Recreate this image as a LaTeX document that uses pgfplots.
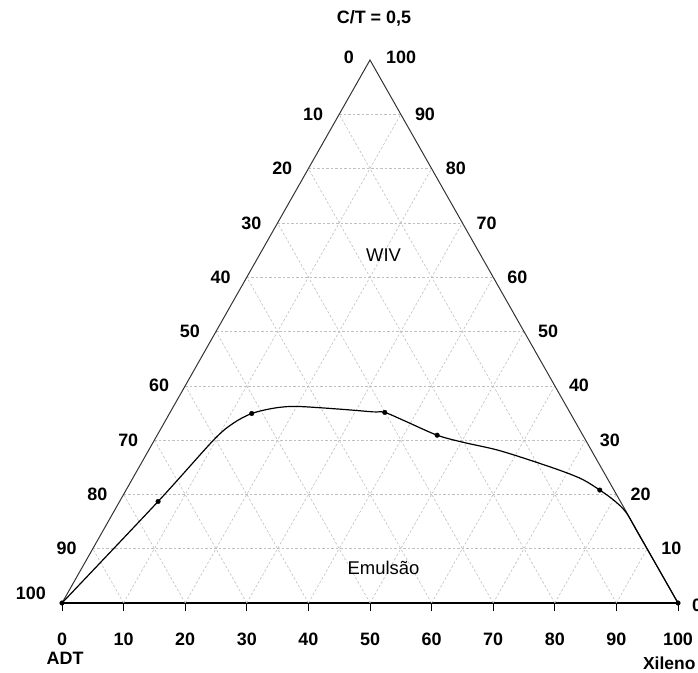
\documentclass[border=0pt]{standalone}
\usepackage{pgfplots}
\pgfplotsset{compat=1.18}
\usepackage{fontspec}
\setmainfont{Liberation Sans}
\newcommand\lab{\bfseries\fontsize{18}{20}\selectfont}
\newcommand\txt{\fontsize{18.5}{20}\selectfont}

% curve (x = bottom scale, y = height in % of triangle)
\pgfplotstableread{
x y
0 0
15.6 18.7
24.6 30.0
27.8 33.1
30.8 34.9
34.5 35.9
38.1 36.2
45.1 35.7
50.5 35.2
52.4 35.1
55.9 33.4
60.9 30.9
65.1 29.6
70.6 28.2
76.0 26.3
81.4 24.2
84.6 22.7
87.3 20.8
89.5 19.0
91.5 16.8
93.5 12.9
100 0
}\curve

\pgfplotstableread{
x y
0 0
15.6 18.7
30.8 34.9
52.4 35.1
60.9 30.9
87.3 20.8
100 0
}\pontos

\begin{document}
\begin{tikzpicture}
\begin{axis}[
  scale only axis, width=616bp, height=543bp,
  xmin=0, xmax=100, ymin=0, ymax=100,
  axis x line=bottom, axis y line=none,
  axis line style={-, black, line width=1.1pt},
  xtick={0,10,...,100},
  xticklabels={0,10,20,30,40,50,60,70,80,90,100},
  tick align=outside, major tick length=8bp,
  tick style={black, line width=0.8pt},
  xticklabel style={font=\lab, yshift=-18bp},
  clip=false,
  unbounded coords=jump,
  grade/.style={black!25, line width=0.6pt, dash pattern=on 2.5bp off 2bp},
]
% grid
\addplot[grade] coordinates {(5,10)(95,10)(nan,nan)(10,20)(90,20)(nan,nan)(15,30)(85,30)(nan,nan)(20,40)(80,40)(nan,nan)(25,50)(75,50)(nan,nan)(30,60)(70,60)(nan,nan)(35,70)(65,70)(nan,nan)(40,80)(60,80)(nan,nan)(45,90)(55,90)};
\addplot[grade] coordinates {(10,0)(55,90)(nan,nan)(20,0)(60,80)(nan,nan)(30,0)(65,70)(nan,nan)(40,0)(70,60)(nan,nan)(50,0)(75,50)(nan,nan)(60,0)(80,40)(nan,nan)(70,0)(85,30)(nan,nan)(80,0)(90,20)(nan,nan)(90,0)(95,10)};
\addplot[grade] coordinates {(10,0)(5,10)(nan,nan)(20,0)(10,20)(nan,nan)(30,0)(15,30)(nan,nan)(40,0)(20,40)(nan,nan)(50,0)(25,50)(nan,nan)(60,0)(30,60)(nan,nan)(70,0)(35,70)(nan,nan)(80,0)(40,80)(nan,nan)(90,0)(45,90)};
% triangle
\addplot[black!80, line width=1pt] coordinates {(0,0)(50,100)(100,0)};
% curve
\addplot[black, line width=1.2pt, smooth, tension=0.5] table {\curve};
\addplot[only marks, mark=*, mark size=2.3bp, black] table {\pontos};

% left scale
\begin{scope}[every node/.style={font=\lab, inner sep=0pt}]
\node[anchor=east, xshift=-16bp, yshift=2.7bp] at (axis cs:50,100) {0};
\node[anchor=east, xshift=-16bp] at (axis cs:45,90) {10};
\node[anchor=east, xshift=-16bp] at (axis cs:40,80) {20};
\node[anchor=east, xshift=-16bp] at (axis cs:35,70) {30};
\node[anchor=east, xshift=-16bp] at (axis cs:30,60) {40};
\node[anchor=east, xshift=-16bp] at (axis cs:25,50) {50};
\node[anchor=east, xshift=-16bp] at (axis cs:20,40) {60};
\node[anchor=east, xshift=-16bp] at (axis cs:15,30) {70};
\node[anchor=east, xshift=-16bp] at (axis cs:10,20) {80};
\node[anchor=east, xshift=-16bp] at (axis cs:5,10) {90};
\node[anchor=east, xshift=-16bp, yshift=10bp] at (axis cs:0,0) {100};
% right scale
\node[anchor=west, xshift=16bp, yshift=2.7bp] at (axis cs:50,100) {100};
\node[anchor=west, xshift=14bp] at (axis cs:55,90) {90};
\node[anchor=west, xshift=14bp] at (axis cs:60,80) {80};
\node[anchor=west, xshift=14bp] at (axis cs:65,70) {70};
\node[anchor=west, xshift=14bp] at (axis cs:70,60) {60};
\node[anchor=west, xshift=14bp] at (axis cs:75,50) {50};
\node[anchor=west, xshift=14bp] at (axis cs:80,40) {40};
\node[anchor=west, xshift=14bp] at (axis cs:85,30) {30};
\node[anchor=west, xshift=14bp] at (axis cs:90,20) {20};
\node[anchor=west, xshift=14bp] at (axis cs:95,10) {10};
\node[anchor=west, xshift=14bp, yshift=-2bp] at (axis cs:100,0) {0};
% titles
\node at (axis cs:50.65,107.7) {C/T = 0,5};
\node at (axis cs:0.5,-10.2) {ADT};
\node[anchor=west, font=\bfseries\fontsize{17.5}{20}\selectfont] at (axis cs:94.3,-11.1) {Xileno};
\end{scope}
\node[font=\txt] at (axis cs:52.2,64.1) {WIV};
\node[font=\txt] at (axis cs:52.2,6.5) {Emulsão};

\coordinate (bbl) at (axis cs:-10.065,-12.891);
\coordinate (btr) at (axis cs:103.247,111.05);
\end{axis}
\pgfresetboundingbox
\useasboundingbox (bbl) rectangle (btr);
\end{tikzpicture}
\end{document}
